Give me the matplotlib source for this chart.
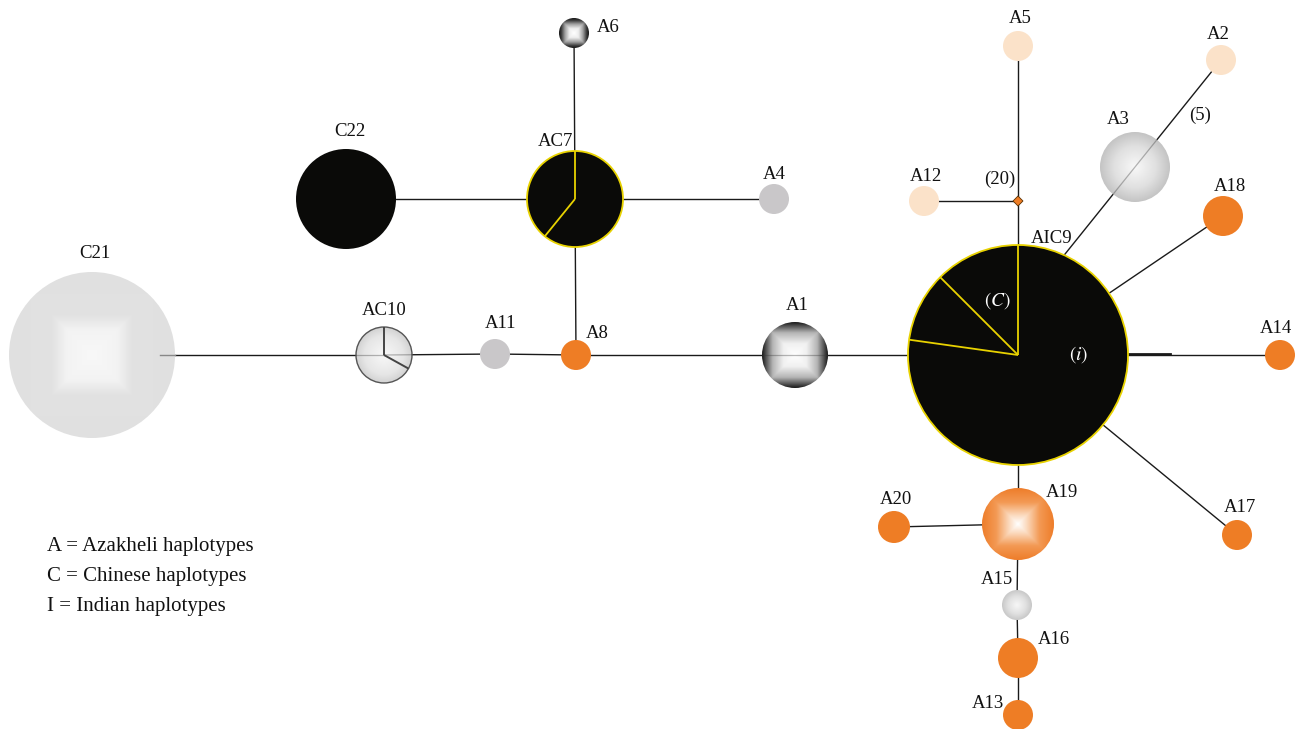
import numpy as np
import matplotlib
matplotlib.use("Agg")
import matplotlib.pyplot as plt
from matplotlib.patches import Circle, Polygon
from matplotlib.colors import LinearSegmentedColormap

# haplotype network: nodes, links between them and the mutation-step labels
haplotypes = ["C21", "AC10", "A11", "A8", "A1", "AIC9", "AC7", "C22", "A6", "A4",
              "A12", "A5", "A2", "A3", "A18", "A14", "A17", "A19", "A20", "A15",
              "A16", "A13"]
links = [("C21", "AC10"), ("AC10", "A11"), ("A11", "A8"), ("A8", "A1"), ("A1", "AIC9"),
         ("A8", "AC7"), ("AC7", "C22"), ("AC7", "A4"), ("AC7", "A6"),
         ("AIC9", "mv"), ("mv", "A5"), ("mv", "A12"),
         ("AIC9", "A18"), ("AIC9", "A14"), ("AIC9", "A17"), ("AIC9", "A19"),
         ("A19", "A20"), ("A19", "A15"), ("A15", "A16"), ("A16", "A13")]
# A2 -> A3 -> AIC9 drawn as one straight run ending on the AIC9 rim
chain = ("A2", "A3", "AIC9")
step_labels = ["(20)", "(5)"]
legend_lines = ["A = Azakheli haplotypes", "C = Chinese haplotypes", "I = Indian haplotypes"]

# layout in pixels (x right, y down)
pos = {"C21": (92, 355), "AC10": (384, 355), "A11": (495, 354), "A8": (576, 355),
       "A1": (795, 355), "AIC9": (1018, 355), "AC7": (575, 199), "C22": (346, 199),
       "A6": (574, 33), "A4": (774, 199), "A12": (924, 201), "A5": (1018, 46),
       "A2": (1221, 60), "A3": (1135, 167), "A18": (1223, 216), "A14": (1280, 355),
       "A17": (1237, 535), "A19": (1018, 524), "A20": (894, 527), "A15": (1017, 605),
       "A16": (1018, 658), "A13": (1018, 715), "mv": (1018, 201)}
radius = {"C21": 83, "AC10": 28, "A11": 15, "A8": 15, "A1": 33, "AIC9": 110,
          "AC7": 48, "C22": 50, "A6": 15, "A4": 15, "A12": 15, "A5": 15, "A2": 15,
          "A3": 35, "A18": 20, "A14": 15, "A17": 15, "A19": 36, "A20": 16,
          "A15": 15, "A16": 20, "A13": 15}
label_pos = {"C21": (95, 253), "C22": (350, 131), "AC7": (555, 141), "A6": (608, 27),
             "A4": (774, 174), "AC10": (384, 310), "A11": (501, 323), "A8": (597, 333),
             "A1": (797, 305), "A12": (926, 176), "A5": (1020, 18), "A2": (1218, 34),
             "A3": (1118, 119), "A18": (1230, 186), "AIC9": (1052, 238),
             "A14": (1276, 328), "A20": (896, 499), "A19": (1062, 492),
             "A17": (1240, 507), "A15": (997, 580), "A16": (1054, 639),
             "A13": (988, 704)}
step_pos = [(1000, 179), (1200, 115)]

ORANGE = "#ee7d25"
PEACH = "#fbe2c9"
GRAY = "#c9c7c9"
BLACK = "#0a0a08"
YELLOW = "#e8d200"

flat = {"A11": GRAY, "A4": GRAY, "A8": ORANGE, "A18": ORANGE, "A14": ORANGE,
        "A17": ORANGE, "A20": ORANGE, "A16": ORANGE, "A13": ORANGE,
        "A12": PEACH, "A5": PEACH, "A2": PEACH, "C22": BLACK}
shaded = {
    "A1": (True, [(0, "#ffffff"), (0.35, "#f0f0f0"), (0.68, "#b4b4b4"), (0.9, "#4a4a4a"), (1, "#1a1a1a")]),
    "A6": (True, [(0, "#ffffff"), (0.3, "#eeeeee"), (0.6, "#a0a0a0"), (0.85, "#3a3a3a"), (1, "#151515")]),
    "C21": (True, [(0, "#f8f8f8"), (0.3, "#f3f3f3"), (0.48, "#e2e2e2"), (1, "#e0e0e0")]),
    "A19": (True, [(0, "#ffffff"), (0.25, "#fbd9bd"), (0.6, "#f39a55"), (1, "#ee7d2a")]),
    "AC10": (False, [(0, "#f8f8f8"), (0.7, "#e6e6e6"), (1, "#d2d2d2")]),
    "A3": (False, [(0, "#f8f8f8"), (0.6, "#e0e0e0"), (1, "#c4c4c4")]),
    "A15": (False, [(0, "#f7f7f7"), (0.6, "#e0e0e0"), (1, "#c8c8c8")]),
}
# pie divisions (degrees, counter-clockwise from east)
pie_cuts = {"AIC9": ([90, 135, 172], YELLOW), "AC7": ([90, 231], YELLOW),
            "AC10": ([90, -29], "#444444")}

plt.rcParams["font.family"] = ["Liberation Serif", "DejaVu Serif"]
plt.rcParams["mathtext.fontset"] = "stix"

fig = plt.figure(figsize=(13.01, 7.29), dpi=100)
ax = fig.add_axes([0, 0, 1, 1])
ax.set_axis_off()


def shaded_disc(x, y, r, stops, square, z=3):
    t = np.linspace(-1, 1, 240)
    gx, gy = np.meshgrid(t, t)
    d = np.maximum(np.abs(gx), np.abs(gy)) if square else np.hypot(gx, gy)
    cmap = LinearSegmentedColormap.from_list("shade", stops)
    im = ax.imshow(cmap(np.clip(d, 0, 1)), extent=(x - r, x + r, y + r, y - r),
                   zorder=z, interpolation="bilinear")
    im.set_clip_path(Circle((x, y), r, transform=ax.transData))


def ray_to_rim(p0, p1, centre, r):
    # point where the ray p0 -> p1 (continued past p1) meets the circle
    p0, p1, c = np.array(p0, float), np.array(p1, float), np.array(centre, float)
    d = (p1 - p0) / np.linalg.norm(p1 - p0)
    f = p1 - c
    b = np.dot(f, d)
    t = -b - np.sqrt(b * b - (np.dot(f, f) - r * r))
    return p1 + t * d


# links
for a, b in links:
    (x0, y0), (x1, y1) = pos[a], pos[b]
    if a == "C21":
        x0 = x0 + 0.82 * radius["C21"]
    ax.plot([x0, x1], [y0, y1], color="#1a1a1a", lw=1.0, zorder=1)
end = ray_to_rim(pos[chain[0]], pos[chain[1]], pos[chain[2]], radius[chain[2]])
chain_x = [pos[chain[0]][0], end[0]]
chain_y = [pos[chain[0]][1], end[1]]
ax.plot(chain_x, chain_y, color="#1a1a1a", lw=1.0, zorder=1)
# thicker stub toward A14
ax.plot([1128, 1170], [354, 354], color="#1a1a1a", lw=2.0, zorder=1)

# nodes
for name in haplotypes:
    x, y = pos[name]
    r = radius[name]
    if name in shaded:
        square, stops = shaded[name]
        shaded_disc(x, y, r, stops, square)
        if name == "AC10":
            ax.add_patch(Circle((x, y), r, fc="none", ec="#555555", lw=1.0, zorder=4))
    elif name in ("AIC9", "AC7"):
        ax.add_patch(Circle((x, y), r, fc=BLACK, ec=YELLOW, lw=1.3, zorder=3))
    else:
        ax.add_patch(Circle((x, y), r, fc=flat[name], ec="none", zorder=3))

# faint links showing through the light nodes
for a, b, c in [("A8", "AIC9", "A1"), ("AC10", "A11", "AC10"), ("C21", "AC10", "AC10")]:
    (x0, y0), (x1, y1) = pos[a], pos[b]
    ax.plot([x0, x1], [y0, y1], color="#333333", lw=0.9, alpha=0.35, zorder=5,
            clip_path=Circle(pos[c], radius[c], transform=ax.transData))
ax.plot(chain_x, chain_y, color="#333333", lw=0.9, alpha=0.35, zorder=5,
        clip_path=Circle(pos["A3"], radius["A3"], transform=ax.transData))
ax.plot([160, pos["C21"][0] + radius["C21"]], [355, 355], color="#888888", lw=1.0, zorder=5)

# pie wedge boundaries
for name, (angles, col) in pie_cuts.items():
    x, y = pos[name]
    r = radius[name]
    for ang in angles:
        th = np.radians(ang)
        ax.plot([x, x + r * np.cos(th)], [y, y - r * np.sin(th)], color=col,
                lw=1.3 if col == YELLOW else 1.4, zorder=6, solid_capstyle="butt")

# median vector
mx, my = pos["mv"]
ax.add_patch(Polygon([(mx, my - 5), (mx + 5, my), (mx, my + 5), (mx - 5, my)],
                     closed=True, fc=ORANGE, ec="#5a3000", lw=0.6, zorder=6))

# labels
for name, (lx, ly) in label_pos.items():
    ax.text(lx, ly, name, fontsize=13.5, ha="center", va="center", color="#111111", zorder=7)
for txt, (lx, ly) in zip(step_labels, step_pos):
    ax.text(lx, ly, txt, fontsize=13.5, ha="center", va="center", color="#111111", zorder=7)
ax.text(997, 301, r"$(C)$", fontsize=14, ha="center", va="center", color="white", zorder=7)
ax.text(1079, 355, r"$(i)$", fontsize=14, ha="center", va="center", color="white", zorder=7)

for i, line in enumerate(legend_lines):
    ax.text(47, 547 + i * 29.5, line, fontsize=15, ha="left", va="center", color="#111111")

ax.set_xlim(0, 1301)
ax.set_ylim(729, 0)
ax.set_aspect("auto")
fig.savefig("out.png", dpi=100, facecolor="white")
